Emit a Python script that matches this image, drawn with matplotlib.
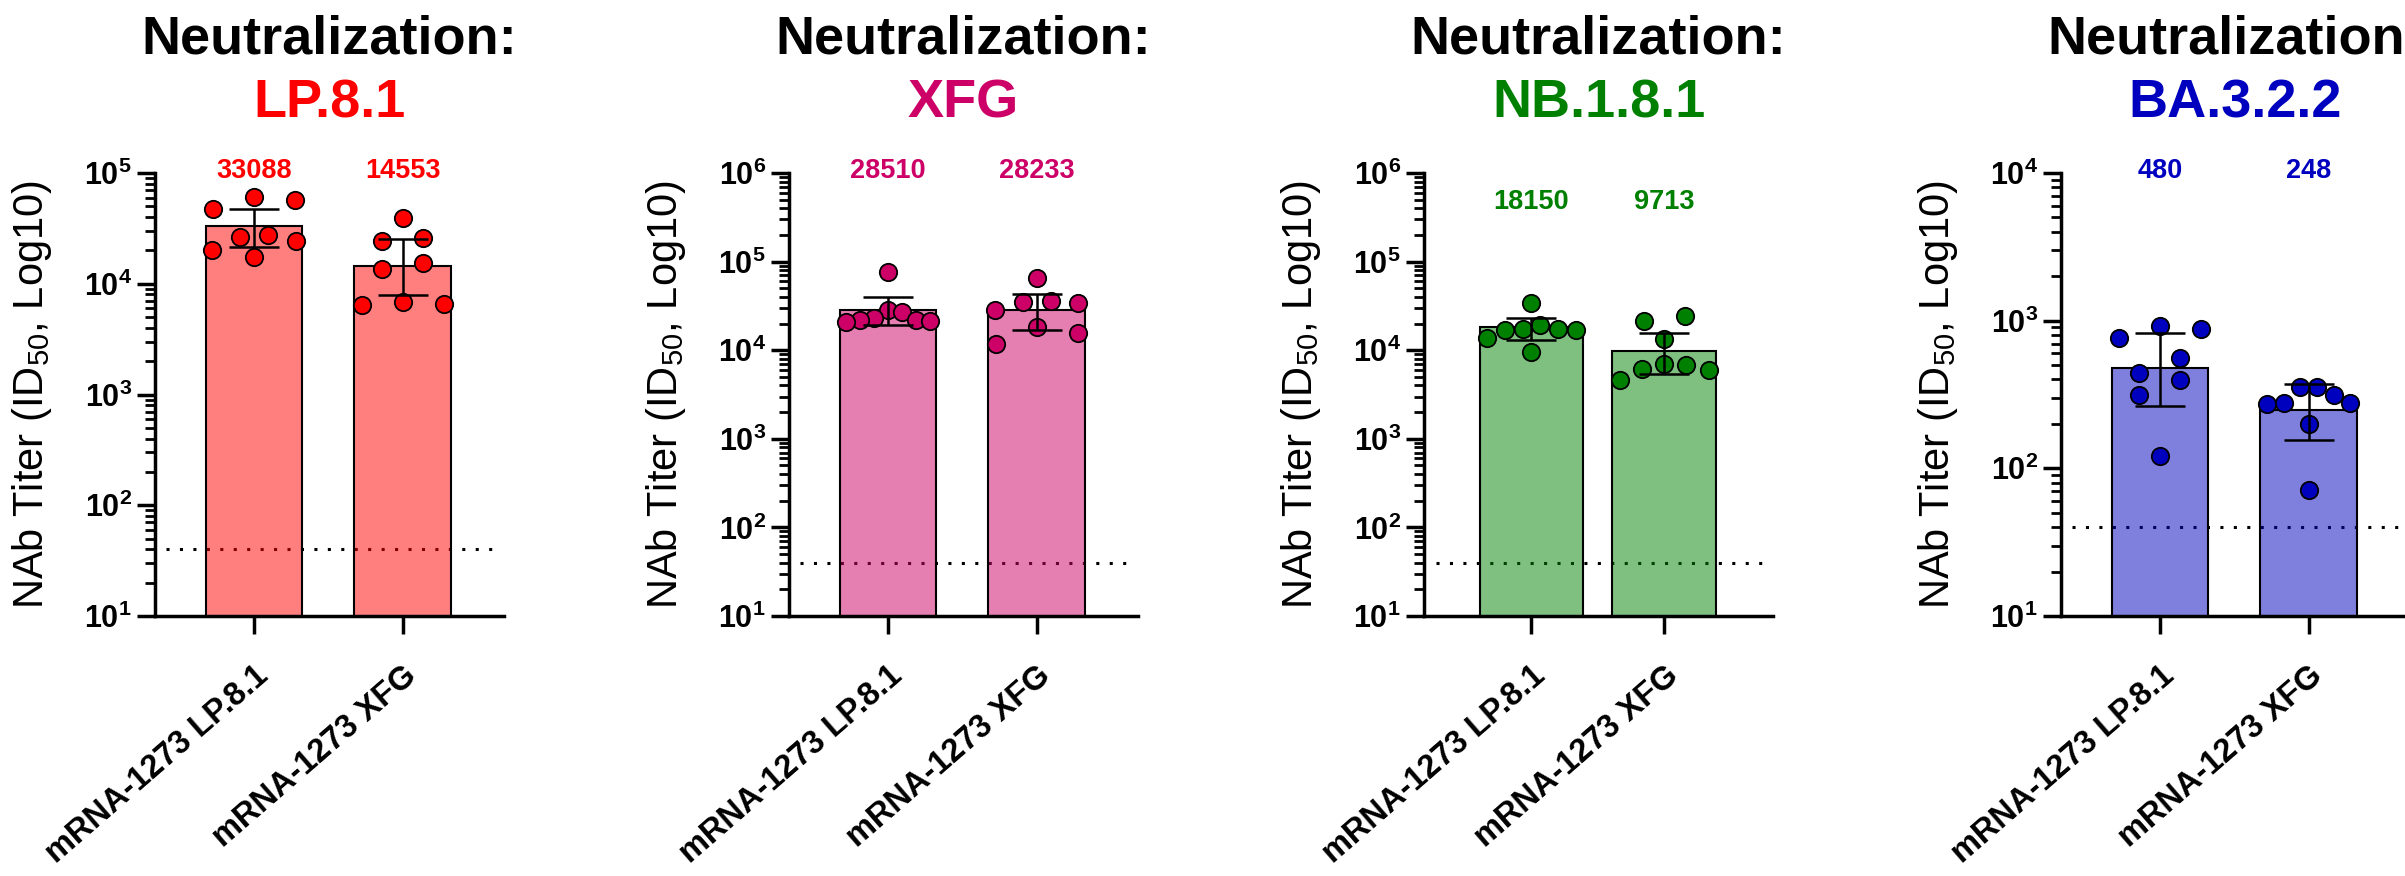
import numpy as np
import matplotlib
matplotlib.use("Agg")
import matplotlib.pyplot as plt
from matplotlib import transforms
from matplotlib.colors import to_rgba
from matplotlib.ticker import LogLocator, NullFormatter, FixedLocator

plt.rcParams['font.family'] = ['Liberation Sans', 'DejaVu Sans']
plt.rcParams['mathtext.fontset'] = 'custom'
plt.rcParams['mathtext.rm'] = 'Liberation Sans'
plt.rcParams['mathtext.bf'] = 'Liberation Sans:bold'
plt.rcParams['mathtext.it'] = 'Liberation Sans:italic'

# ---- data ----
groups = ["mRNA-1273 LP.8.1", "mRNA-1273 XFG"]
variants = ["LP.8.1", "XFG", "NB.1.8.1", "BA.3.2.2"]
colors = ["#FF0000", "#CC0066", "#008000", "#0000BF"]

gmt_lp81 = [33088, 14553]
gmt_xfg = [28510, 28233]
gmt_nb181 = [18150, 9713]
gmt_ba322 = [480, 248]

lp81_a = [60700, 56600, 47600, 27700, 26600, 24300, 20300, 17300]
lp81_b = [38900, 25900, 24500, 15400, 13600, 6780, 6550, 6370]
xfg_a = [76200, 28600, 26700, 23000, 22000, 21700, 21300, 20700]
xfg_b = [65200, 36100, 34900, 33700, 28400, 18500, 15600, 11700]
nb181_a = [33700, 19500, 17300, 17300, 17100, 16800, 13700, 9570]
nb181_b = [24500, 21500, 13400, 6950, 6830, 6150, 5940, 4570]
ba322_a = [917, 885, 769, 557, 439, 395, 313, 122]
ba322_b = [355, 355, 316, 278, 275, 271, 201, 71]

err_lo_lp81 = [21300, 7850]
err_hi_lp81 = [47300, 25300]
err_lo_xfg = [19400, 17000]
err_hi_xfg = [39400, 43000]
err_lo_nb181 = [13200, 5440]
err_hi_nb181 = [22800, 15700]
err_lo_ba322 = [266, 156]
err_hi_ba322 = [826, 375]

lod = 40
ytop = [5, 6, 6, 4]

gmts = [gmt_lp81, gmt_xfg, gmt_nb181, gmt_ba322]
points = [[lp81_a, lp81_b], [xfg_a, xfg_b], [nb181_a, nb181_b], [ba322_a, ba322_b]]
err_lo = [err_lo_lp81, err_lo_xfg, err_lo_nb181, err_lo_ba322]
err_hi = [err_hi_lp81, err_hi_xfg, err_hi_nb181, err_hi_ba322]

# ---- layout (pixels of the 2405x876 canvas) ----
W, H = 2405, 876
ax_left = [155, 789, 1424, 2061]
ax_w, ax_top, ax_bot = 349, 173, 616
xlims = [(-0.665, 1.68), (-0.665, 1.68), (-0.81, 1.82), (-0.665, 1.68)]
bar_w = [0.65, 0.65, 0.78, 0.65]
lod_span = [(-0.59, 1.66), (-0.59, 1.66), (-0.72, 1.80), (-0.59, 1.66)]
label_y = [1.005, 1.005, 0.934, 1.005]
marker_px = 19


def swarm(vals, lo, hi, h_px, unit_px, d, smax, maxw):
    # rows of points that sit close in y, spread evenly across the bar
    ys = (np.log10(vals) - lo) / (hi - lo) * h_px
    order = np.argsort(-ys, kind="stable")
    rows, cur = [], [order[0]]
    for i in order[1:]:
        if ys[cur[0]] - ys[i] < d:
            cur.append(i)
        else:
            rows.append(cur)
            cur = [i]
    rows.append(cur)
    xs = np.zeros(len(vals))
    for r in rows:
        n = len(r)
        if n == 1:
            continue
        s = min(smax, maxw / (n - 1))
        slots = sorted((np.arange(n) - (n - 1) / 2) * s, key=lambda v: (abs(v), -v))
        for idx, sl in zip(r, slots):
            xs[idx] = sl
    return xs / unit_px


fig = plt.figure(figsize=(W / 100, H / 100), dpi=100)
ax_h = ax_bot - ax_top

for k in range(4):
    ax = fig.add_axes([ax_left[k] / W, (H - ax_bot) / H, ax_w / W, ax_h / H])
    c = colors[k]
    ax.set_yscale('log')
    ax.set_ylim(10, 10 ** ytop[k])
    ax.set_xlim(*xlims[k])
    unit_px = ax_w / (xlims[k][1] - xlims[k][0])

    ax.plot(lod_span[k], [lod, lod], color='k', lw=2.2, dashes=(1, 3.4), zorder=1)

    x = np.arange(2)
    ax.bar(x, gmts[k], width=bar_w[k], facecolor=to_rgba(c, 0.5),
           edgecolor='k', linewidth=1.5, zorder=2)
    for g in range(2):
        vals = np.array(points[k][g], dtype=float)
        off = swarm(vals, 1, ytop[k], ax_h, unit_px, marker_px, 41,
                    0.86 * bar_w[k] * unit_px)
        ax.plot(g + off, vals, 'o', ms=12.5, mfc=c, mec='k', mew=1.3,
                linestyle='none', zorder=3)
    g_arr = np.array(gmts[k], dtype=float)
    yerr = [g_arr - np.array(err_lo[k]), np.array(err_hi[k]) - g_arr]
    ax.errorbar(x, g_arr, yerr=yerr, fmt='none', ecolor='k', elinewidth=1.8,
                capsize=18, capthick=1.8, zorder=4)

    tr = transforms.blended_transform_factory(ax.transData, ax.transAxes)
    for g in range(2):
        ax.text(g, label_y[k], str(gmts[k][g]), transform=tr, ha='center',
                va='center', fontsize=19.5, fontweight='bold', color=c)

    # axes styling
    for s in ['top', 'right']:
        ax.spines[s].set_visible(False)
    for s in ['left', 'bottom']:
        ax.spines[s].set_linewidth(2.5)
    dec = list(range(1, ytop[k] + 1))
    ax.yaxis.set_major_locator(FixedLocator([10.0 ** d for d in dec]))
    ax.set_yticklabels([r'$\mathbf{10^{%d}}$' % d for d in dec])
    ax.yaxis.set_minor_locator(LogLocator(base=10, subs=np.arange(2, 10)))
    ax.yaxis.set_minor_formatter(NullFormatter())
    ax.tick_params(axis='y', which='major', length=13, width=2.5,
                   labelsize=22, pad=3.5)
    ax.tick_params(axis='y', which='minor', length=7, width=2)
    ax.set_xticks(x)
    ax.set_xticklabels(groups, rotation=41, ha='right', va='top',
                       rotation_mode='anchor', fontsize=23.5, fontweight='bold')
    ax.tick_params(axis='x', length=13, width=2.5, pad=19)

    ax.set_ylabel(r'NAb Titer (ID$_{50}$, Log10)', fontsize=30)
    ax.yaxis.set_label_coords(-0.29, 0.5)

    ttr = transforms.blended_transform_factory(ax.transAxes, fig.transFigure)
    ax.text(0.5, (H - 53) / H, "Neutralization:", transform=ttr, ha='center',
            va='baseline', fontsize=39, fontweight='bold', color='k')
    ax.text(0.5, (H - 117) / H, variants[k], transform=ttr, ha='center',
            va='baseline', fontsize=39, fontweight='bold', color=c)

fig.savefig("out.png", dpi=100)
